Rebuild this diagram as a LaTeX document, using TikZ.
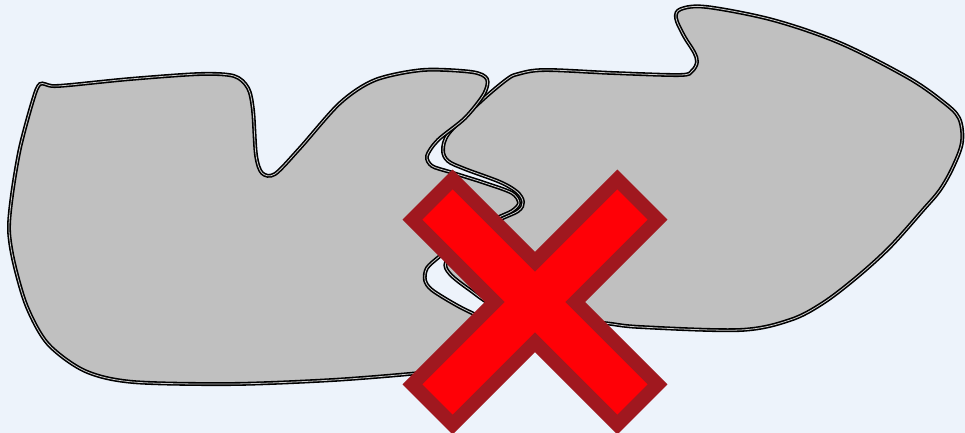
\documentclass[tikz,border=0pt]{standalone}
\usepackage{tikz}
\usetikzlibrary{calc}
\usepackage{xcolor}
\definecolor{paperblue}{HTML}{EDF3FB}
\definecolor{piecegrey}{HTML}{C0C0C0}
\definecolor{crossred}{HTML}{FF0006}
\definecolor{crossdarkred}{HTML}{A0181F}
\tikzset{
  piece/.style={
    fill=piecegrey, draw=black, double=white!60!gray,
    double distance=0.45pt, line width=0.9pt
  },
  crossmark/.style={
    fill=crossred, draw=crossdarkred, line width=7.9pt,
    line join=miter
  }
}

\begin{document}
\begin{tikzpicture}[x=0.02cm, y=-0.02cm]
  \useasboundingbox (0,0) rectangle (965,433);
  \clip (0,0) rectangle (965,433);
  \fill[paperblue] (0,0) rectangle (965,433);
  % right piece
  \draw[piece] plot[smooth cycle, tension=0.55] coordinates {
    (518,74) (545,70) (613,73) (680,75) (692,71) (697,62) (694,52)
    (684,36) (676,18) (681,9) (707,7) (773,20) (840,43) (907,77)
    (942,101) (959,118) (962,142) (953,167) (940,190) (923,210)
    (890,247) (857,277) (823,303) (790,320) (740,330) (640,327)
    (603,323) (540,318) (495,306) (470,290) (450,274) (446,262)
    (462,244) (495,222) (518,211) (523,202) (517,192) (500,182)
    (465,169) (448,161) (443,150) (449,133) (480,102) (506,80)};
  % left piece
  \draw[piece] plot[smooth cycle, tension=0.5] coordinates {
    (40,84) (52,86) (70,85) (130,79) (200,74) (234,76) (248,88)
    (253,110) (256,155) (262,173) (275,174) (300,148) (340,103)
    (375,80) (423,70) (472,72) (487,79) (484,94) (465,118) (438,140)
    (427,156) (432,166) (450,172) (485,183) (512,193) (519,203)
    (512,211) (495,219) (465,236) (440,256) (427,268) (425,280)
    (432,290) (458,306) (490,322) (520,340) (525,352) (500,364)
    (420,373) (333,380) (233,384) (133,382) (85,371) (48,344)
    (27,307) (14,263) (9,230) (12,195) (20,148) (33,100)};
  % the cross
  \coordinate (mid) at (535,302);
  \draw[crossmark] ($(mid)+(0,-40.2)$) -- ($(mid)+(82.4,-122.6)$)
    -- ($(mid)+(122.6,-82.4)$) -- ($(mid)+(40.2,0)$)
    -- ($(mid)+(122.6,82.4)$) -- ($(mid)+(82.4,122.6)$)
    -- ($(mid)+(0,40.2)$) -- ($(mid)+(-82.4,122.6)$)
    -- ($(mid)+(-122.6,82.4)$) -- ($(mid)+(-40.2,0)$)
    -- ($(mid)+(-122.6,-82.4)$) -- ($(mid)+(-82.4,-122.6)$) -- cycle;
\end{tikzpicture}
\end{document}
